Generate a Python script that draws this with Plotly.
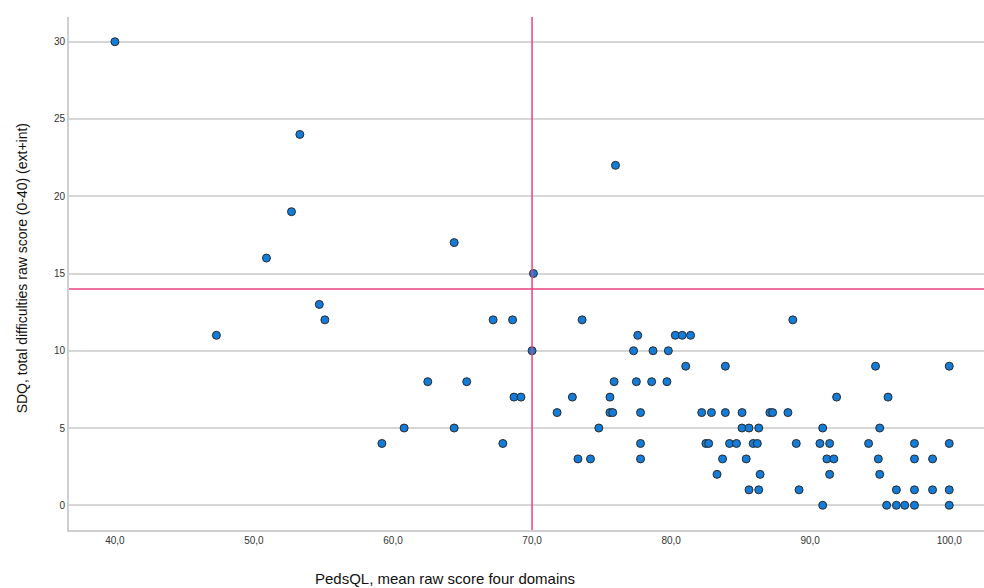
import plotly.graph_objects as go

# PedsQL mean raw score (x) and SDQ total difficulties (y)
pedsql = [
    40.0, 53.3, 52.7, 50.9, 64.4, 76.0, 70.1,
    47.3, 54.7, 55.1,
    67.2, 68.6, 73.6, 88.75,
    77.6, 80.3, 80.8, 81.4,
    70.0, 77.3, 78.7, 79.8,
    81.05, 83.9, 94.7, 100.0,
    62.5, 65.3, 75.9, 77.5, 78.6, 79.7,
    68.7, 69.2, 72.9, 75.6, 91.9, 95.6,
    71.8, 75.6, 75.8, 77.8, 82.2, 82.9, 83.9, 85.1, 87.1, 87.3, 88.4,
    60.8, 64.4, 74.8, 85.1, 85.6, 86.3, 90.9, 95.0,
    59.2, 67.9, 77.8, 82.5, 82.7, 84.2, 84.7, 85.9, 86.2, 89.0, 90.7, 91.4, 94.2, 97.5, 100.0,
    73.3, 74.2, 77.8, 83.7, 85.4, 91.2, 91.7, 94.9, 97.5, 98.8,
    83.3, 86.4, 91.4, 95.0,
    85.6, 86.3, 89.2, 96.2, 97.5, 98.8, 100.0,
    90.9, 95.5, 96.2, 96.8, 97.5, 100.0,
]
sdq = [
    30, 24, 19, 16, 17, 22, 15,
    11, 13, 12,
    12, 12, 12, 12,
    11, 11, 11, 11,
    10, 10, 10, 10,
    9, 9, 9, 9,
    8, 8, 8, 8, 8, 8,
    7, 7, 7, 7, 7, 7,
    6, 6, 6, 6, 6, 6, 6, 6, 6, 6, 6,
    5, 5, 5, 5, 5, 5, 5, 5,
    4, 4, 4, 4, 4, 4, 4, 4, 4, 4, 4, 4, 4, 4, 4,
    3, 3, 3, 3, 3, 3, 3, 3, 3, 3,
    2, 2, 2, 2,
    1, 1, 1, 1, 1, 1, 1,
    0, 0, 0, 0, 0, 0,
]

x_ticks = [40, 50, 60, 70, 80, 90, 100]
x_tick_labels = ["40,0", "50,0", "60,0", "70,0", "80,0", "90,0", "100,0"]
y_ticks = [0, 5, 10, 15, 20, 25, 30]

x_ref = 70
y_ref = 14

fig = go.Figure()
fig.add_trace(go.Scatter(
    x=pedsql, y=sdq, mode="markers",
    marker=dict(size=8, color="#137bd8", line=dict(color="#2b2b2b", width=1)),
    showlegend=False, hoverinfo="x+y",
))

line_col = "#e6447f"
fig.add_shape(type="line", xref="x", yref="paper", x0=x_ref, x1=x_ref, y0=0, y1=1,
              line=dict(color=line_col, width=1.5))
fig.add_shape(type="line", xref="paper", yref="y", x0=0, x1=1, y0=y_ref, y1=y_ref,
              line=dict(color=line_col, width=1.5))

fig.add_annotation(text="PedsQL, mean raw score four domains", xref="paper", yref="paper",
                   x=0.411, y=-0.094, showarrow=False, xanchor="center", yanchor="middle",
                   font=dict(size=15, color="#111", family="Liberation Sans, Arial, sans-serif"))
fig.add_annotation(text="SDQ, total difficulties raw score (0-40) (ext+int)", xref="paper", yref="paper",
                   x=-0.0514, y=0.51, showarrow=False, textangle=-90, xanchor="center", yanchor="middle",
                   font=dict(size=14, color="#111", family="Liberation Sans, Arial, sans-serif"))

fig.update_layout(
    width=984, height=588,
    margin=dict(l=69, r=0, t=17, b=58),
    paper_bgcolor="white", plot_bgcolor="white",
    font=dict(family="Liberation Sans, Arial, sans-serif", size=10, color="#333"),
    xaxis=dict(range=[36.7, 102.5], tickvals=x_ticks, ticktext=x_tick_labels,
               showgrid=False, zeroline=False, showline=True, linecolor="#cfcfcf", linewidth=2,
               ticks="", ticklen=0, tickfont=dict(size=10, color="#333")),
    yaxis=dict(range=[-1.6, 31.6], tickvals=y_ticks, showgrid=True, gridcolor="#d6d6d6", gridwidth=2,
               zeroline=False, showline=True, linecolor="#cfcfcf", linewidth=2,
               ticks="", tickfont=dict(size=10, color="#333")),
)

fig.write_html("out.html", config={"displayModeBar": False},
               post_script="document.body.style.margin='0px';document.body.style.overflow='hidden';")
